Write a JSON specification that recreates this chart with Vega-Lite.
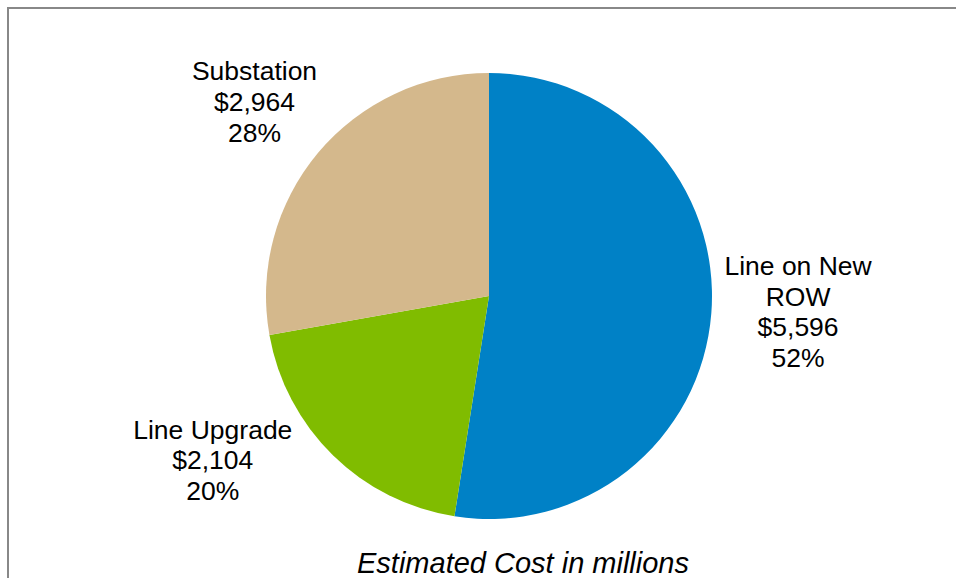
{
  "$schema": "https://vega.github.io/schema/vega-lite/v6.json",
  "width": 962,
  "height": 576,
  "autosize": {"type": "none"},
  "padding": {"left": 8, "top": 8, "right": -14, "bottom": -6},
  "background": "white",
  "view": {"stroke": "#888888", "strokeWidth": 2, "fill": "white"},
  "config": {
    "view": {"stroke": "#888888", "strokeWidth": 2},
    "font": "Liberation Sans"
  },
  "title": {
    "text": "Estimated Cost in millions",
    "orient": "bottom",
    "anchor": "middle",
    "offset": -34,
    "dx": 34,
    "font": "Liberation Sans",
    "fontSize": 29,
    "fontStyle": "italic",
    "fontWeight": "normal",
    "color": "#000000"
  },
  "data": {
    "values": [
      {"cat": "Line on New ROW", "cost": 5596, "ord": 1, "label": "Line on New\nROW\n$5,596\n52%"},
      {"cat": "Line Upgrade", "cost": 2104, "ord": 2, "label": "Line Upgrade\n$2,104\n20%"},
      {"cat": "Substation", "cost": 2964, "ord": 3, "label": "Substation\n$2,964\n28%"}
    ]
  },
  "encoding": {
    "theta": {"field": "cost", "type": "quantitative", "stack": true},
    "order": {"field": "ord", "type": "quantitative"}
  },
  "layer": [
    {
      "mark": {"type": "arc", "outerRadius": 223},
      "encoding": {
        "color": {
          "field": "cat",
          "type": "nominal",
          "scale": {
            "domain": ["Line on New ROW", "Line Upgrade", "Substation"],
            "range": ["#0081C6", "#80BC00", "#D4B88C"]
          },
          "legend": null
        }
      }
    },
    {
      "mark": {"type": "text", "radius": 306, "dx": 4, "dy": -53, "fontSize": 26.5, "lineHeight": 30.8, "lineBreak": "\n", "align": "center", "baseline": "middle", "color": "#000000", "font": "Liberation Sans"},
      "encoding": {
        "text": {"condition": {"test": "datum.cat === 'Line on New ROW'", "field": "label"}, "value": ""}
      }
    },
    {
      "mark": {"type": "text", "radius": 306, "dx": 0, "dy": -27, "fontSize": 26.5, "lineHeight": 30.8, "lineBreak": "\n", "align": "center", "baseline": "middle", "color": "#000000", "font": "Liberation Sans"},
      "encoding": {
        "text": {"condition": {"test": "datum.cat === 'Substation'", "field": "label"}, "value": ""}
      }
    },
    {
      "mark": {"type": "text", "radius": 306, "dx": -62, "dy": -84, "fontSize": 26.5, "lineHeight": 30.8, "lineBreak": "\n", "align": "center", "baseline": "middle", "color": "#000000", "font": "Liberation Sans"},
      "encoding": {
        "text": {"condition": {"test": "datum.cat === 'Line Upgrade'", "field": "label"}, "value": ""}
      }
    }
  ]
}
